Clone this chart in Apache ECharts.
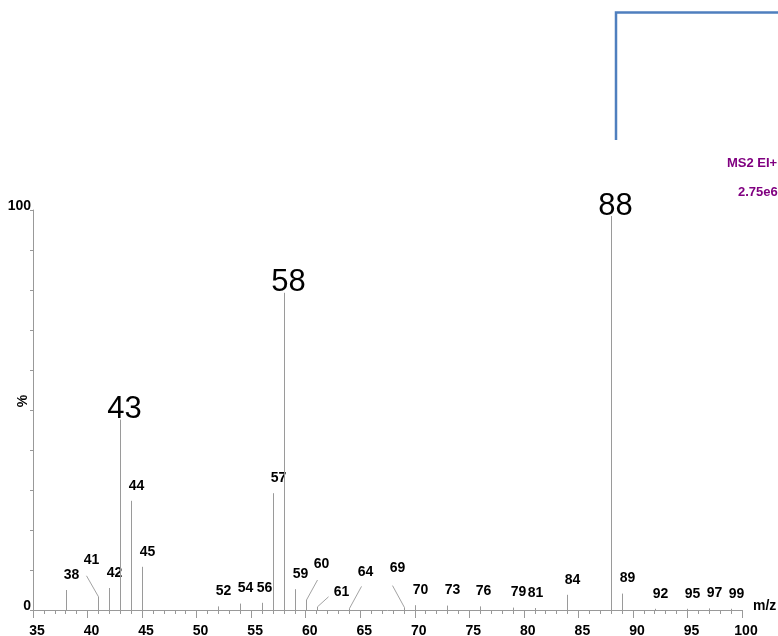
<!DOCTYPE html>
<html>
<head>
<meta charset="utf-8">
<script src="https://cdn.jsdelivr.net/npm/echarts@6/dist/echarts.min.js"></script>
<style>
  html, body { margin: 0; padding: 0; background: #fff; }
  #chart { width: 778px; height: 636px; }
</style>
</head>
<body>
<div id="chart"></div>
<script>
// EI+ mass spectrum (MS2), relative intensity in % of the base peak
const mzValues = [38, 41, 42, 43, 44, 45, 52, 54, 56, 57, 58, 59, 60, 61, 64, 69, 70, 73, 76, 79, 81, 84, 88, 89, 92, 95, 97, 99];
const intensities = [5.0, 3.3, 5.5, 47.6, 27.3, 10.8, 0.9, 1.6, 1.8, 29.2, 79.3, 5.2, 2.5, 0.8, 0.4, 0.6, 1.2, 1.1, 0.9, 0.6, 0.5, 3.8, 98.5, 4.1, 0.3, 0.3, 0.4, 0.3];
const majorPeaks = [43, 58, 88];
const yTickLabels = ['0', '100'];
const headerLines = ['MS2 EI+', '2.75e6'];

// label placement in pixels relative to the top of each stick
const labelShift = {
  41: { label: [-7, -37], leader: [-12, -21] },
  60: { label: [15, -36], leader: [11, -20] },
  61: { label: [24, -15], leader: [11, -10] },
  64: { label: [16, -36], leader: [12, -22] },
  69: { label: [-7, -39], leader: [-12, -22] },
  56: { label: [2, -15] },
  76: { label: [3, -15] },
  81: { label: [0, -15] }
};

const FONT = '"Liberation Sans", Arial, sans-serif';
const chart = echarts.init(document.getElementById('chart'), null, { renderer: 'canvas' });

function renderPeak(params, api) {
  const mz = api.value(0);
  const val = api.value(1);
  const base = api.coord([mz, 0]);
  const top = api.coord([mz, val]);
  const x = Math.round(base[0]) + 0.5;
  const big = majorPeaks.indexOf(mz) >= 0;
  const shift = labelShift[mz] || { label: big ? [4, -10] : [5, -15] };
  const children = [
    { type: 'line', shape: { x1: x, y1: base[1], x2: x, y2: top[1] },
      style: { stroke: '#9a9a9a', lineWidth: 1 } },
    { type: 'text',
      style: { text: String(mz), x: x + shift.label[0], y: top[1] + shift.label[1],
               align: 'center', verticalAlign: 'middle',
               font: big ? '31px ' + FONT : 'bold 14px ' + FONT, fill: '#000' } }
  ];
  if (shift.leader) {
    children.push({ type: 'line',
      shape: { x1: x + shift.leader[0], y1: top[1] + shift.leader[1], x2: x, y2: top[1] },
      style: { stroke: '#8a8a8a', lineWidth: 0.8 } });
  }
  return { type: 'group', children: children };
}

chart.setOption({
  animation: false,
  backgroundColor: '#fff',
  grid: { left: 33, right: 36, top: 210, bottom: 26, containLabel: false, outerBoundsMode: 'none' },
  xAxis: {
    type: 'value', min: 35, max: 100, interval: 5,
    name: 'm/z', nameLocation: 'end', nameGap: 11,
    nameTextStyle: { fontFamily: FONT, fontSize: 14, fontWeight: 'bold', color: '#000',
                     verticalAlign: 'bottom', lineHeight: 8 },
    axisLine: { onZero: false, lineStyle: { color: '#999', width: 1 } },
    axisTick: { show: true, length: 8, lineStyle: { color: '#999' } },
    minorTick: { show: true, splitNumber: 5, length: 4, lineStyle: { color: '#999' } },
    splitLine: { show: false },
    axisLabel: { fontFamily: FONT, fontSize: 14, fontWeight: 'bold', color: '#000',
                 margin: 14, padding: [0, 0, 0, 8] }
  },
  yAxis: {
    type: 'value', min: 0, max: 100, interval: 10,
    name: '%', nameLocation: 'middle', nameRotate: 90, nameGap: 3, nameMoveOverlap: false,
    nameTextStyle: { fontFamily: FONT, fontSize: 14, fontWeight: 'bold', color: '#000',
                     padding: [0, 0, 0, 18] },
    axisLine: { show: true, lineStyle: { color: '#999', width: 1 } },
    axisTick: { show: true, length: 3, lineStyle: { color: '#999' } },
    splitLine: { show: false },
    axisLabel: {
      fontFamily: FONT, fontSize: 14, fontWeight: 'bold', color: '#000', margin: 2,
      verticalAlign: 'bottom', lineHeight: 8,
      formatter: function (v) { const s = String(v); return yTickLabels.indexOf(s) >= 0 ? s : ''; }
    }
  },
  series: [{
    type: 'custom',
    silent: true,
    clip: false,
    renderItem: renderPeak,
    encode: { x: 0, y: 1 },
    data: mzValues.map(function (m, i) { return [m, intensities[i]]; })
  }],
  graphic: [
    { type: 'polyline', silent: true,
      shape: { points: [[616, 140], [616, 12.5], [778, 12.5]] },
      style: { stroke: '#4f7fbe', lineWidth: 2.5, fill: null } },
    { type: 'text', left: 727, top: 157,
      style: { text: headerLines[0], font: 'bold 13px ' + FONT, fill: '#800080' } },
    { type: 'text', left: 738, top: 186,
      style: { text: headerLines[1], font: 'bold 13px ' + FONT, fill: '#800080' } }
  ]
});
</script>
</body>
</html>
